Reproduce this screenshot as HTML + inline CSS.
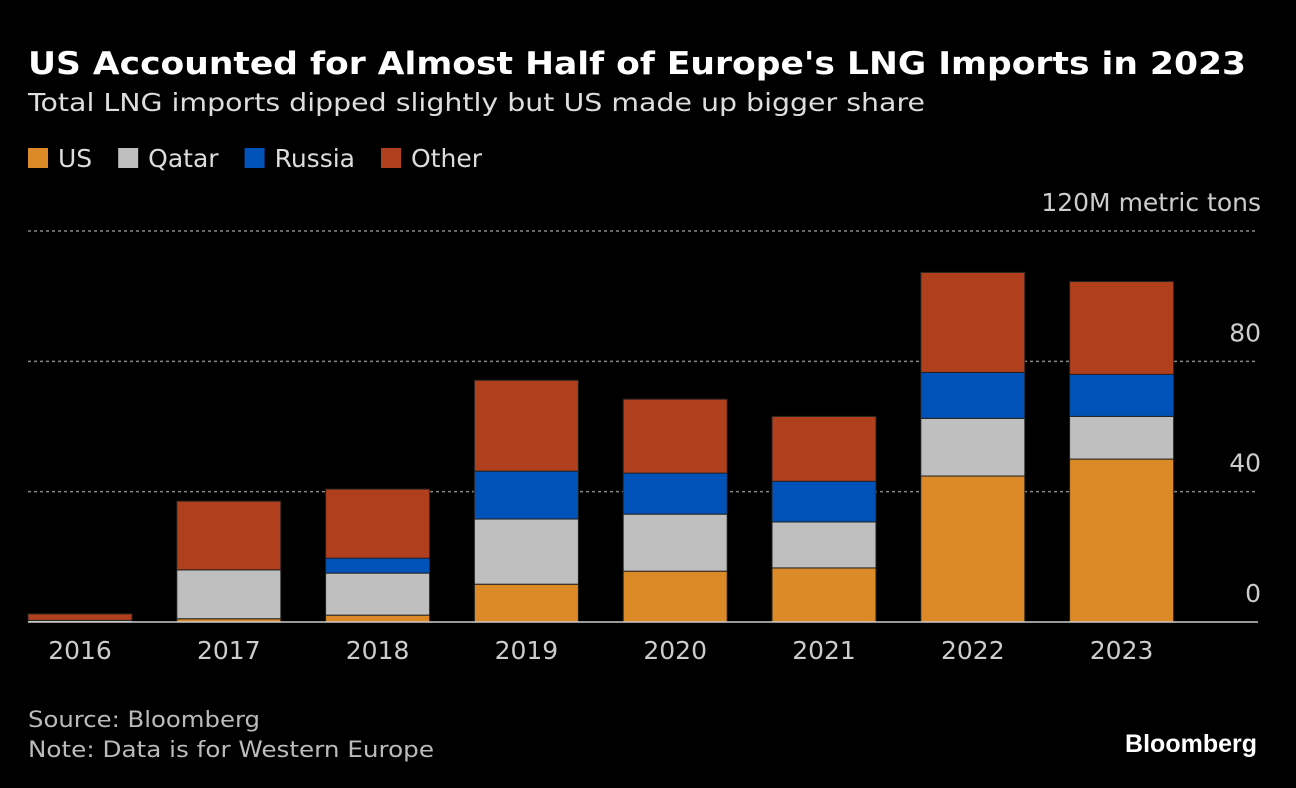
<!DOCTYPE html>
<html><head><meta charset="utf-8">
<style>
body{margin:0;background:#000;width:1296px;height:788px;overflow:hidden;font-family:"DejaVu Sans","Liberation Sans",sans-serif;color:#ddd}
svg text{font-family:"DejaVu Sans","Liberation Sans",sans-serif}
</style></head>
<body>
<svg width="1296" height="788" style="position:absolute;left:0;top:0">
<text x="28" y="74" fill="#fff" font-size="31" font-weight="bold" textLength="1218" lengthAdjust="spacingAndGlyphs">US Accounted for Almost Half of Europe's LNG Imports in 2023</text>
<text x="28" y="111" fill="#ddd" font-size="25" textLength="897" lengthAdjust="spacingAndGlyphs">Total LNG imports dipped slightly but US made up bigger share</text>
<g id="legend"></g>
<g id="grid"></g>
<g id="bars"></g>
<g id="xlabels"></g>
<text x="28" y="727" fill="#bbb" font-size="22" textLength="232" lengthAdjust="spacingAndGlyphs">Source: Bloomberg</text>
<text x="28" y="757" fill="#bbb" font-size="22" textLength="406" lengthAdjust="spacingAndGlyphs">Note: Data is for Western Europe</text>
<text x="1257" y="752" fill="#fff" font-size="25" font-weight="bold" text-anchor="end" style="font-family:'Liberation Sans',sans-serif">Bloomberg</text>
</svg>
<script>
const years=["2016","2017","2018","2019","2020","2021","2022","2023"];
const us=[0,1,2.1,11.6,15.6,16.6,44.8,50];
const qatar=[0.5,15,12.9,20,17.5,14.1,17.7,13.1];
const russia=[0,0,4.6,14.7,12.6,12.5,14.1,12.9];
const other=[2,21.1,21.2,27.9,22.7,19.9,30.7,28.5];
const ticks=[0,40,80,120];
const tickLabels=["0","40","80","120M metric tons"];
const seriesNames=["US","Qatar","Russia","Other"];
const colors=["#dc8a27","#bfbfbf","#0051b8","#b0401d"];
const NS="http://www.w3.org/2000/svg";
function y(v){return 622-v*(391/120);}
function x(i){return 28+i*148.8;}
const bw=104;
function mk(tag,attrs,parent){const e=document.createElementNS(NS,tag);for(const k in attrs)e.setAttribute(k,attrs[k]);document.getElementById(parent).appendChild(e);return e;}
let lx=28;
seriesNames.forEach((n,i)=>{
 const r=mk("rect",{x:lx,y:148,width:20,height:20,fill:colors[i]},"legend");
 
 
 const t=mk("text",{x:lx+30,y:167,fill:"#ddd","font-size":25},"legend");
 t.textContent=n;
 
 
 lx+=30+t.getComputedTextLength()+26;
});
ticks.forEach((t,i)=>{
 if(t>0){const l=mk("line",{x1:28,x2:1258,y1:y(t),y2:y(t),stroke:"#888","stroke-width":1.5,"stroke-dasharray":"3,3"},"grid");
 
 }
 const tx=mk("text",{x:1261,y:y(t)-20,fill:"#ccc","font-size":25,"text-anchor":"end"},"grid");
 tx.textContent=tickLabels[i];
 
 
});
const series=[us,qatar,russia,other];
years.forEach((yr,i)=>{
 let base=0;
 series.forEach((s,k)=>{
  const v=s[i]; if(v<=0)return;
  const r=mk("rect",{x:x(i),y:y(base+v),width:bw,height:y(base)-y(base+v),fill:colors[k],stroke:"#222","stroke-width":1},"bars");
  
  
  base+=v;
 });
 const t=mk("text",{x:x(i)+bw/2,y:659,fill:"#ccc","font-size":25,"text-anchor":"middle"},"xlabels");
 t.textContent=yr;
 
 
});
const b=mk("line",{x1:28,x2:1258,y1:622,y2:622,stroke:"#ccc","stroke-width":1.5},"bars");


</script>
</body></html>
